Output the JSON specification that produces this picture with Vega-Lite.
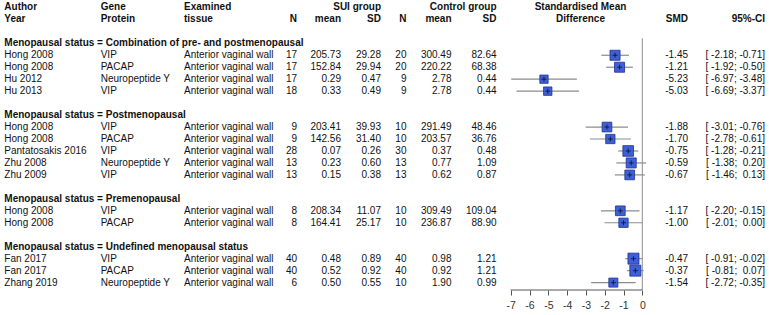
{
  "$schema": "https://vega.github.io/schema/vega-lite/v6.json",
  "width": 769,
  "height": 290,
  "autosize": {"type": "none"},
  "padding": {"left": 0, "top": 0, "right": 0, "bottom": 25},
  "background": "white",
  "config": {
    "view": {"stroke": null},
    "locale": {"number": {"decimal": ".", "thousands": ",", "grouping": [3], "currency": ["$", ""], "minus": "-"}},
    "text": {"font": "Liberation Sans", "fontSize": 10, "color": "#111111", "baseline": "middle"}
  },
  "datasets": {
    "studies": [
      {"id": "r1", "author": "Hong 2008", "gene": "VIP", "tissue": "Anterior vaginal wall", "n1": 17, "m1": 205.73, "sd1": 29.28, "n2": 20, "m2": 300.49, "sd2": 82.64, "smd": -1.45, "lo": -2.18, "hi": -0.71, "ci": "[ -2.18; -0.71]", "weight": 6.3},
      {"id": "r2", "author": "Hong 2008", "gene": "PACAP", "tissue": "Anterior vaginal wall", "n1": 17, "m1": 152.84, "sd1": 29.94, "n2": 20, "m2": 220.22, "sd2": 68.38, "smd": -1.21, "lo": -1.92, "hi": -0.50, "ci": "[ -1.92; -0.50]", "weight": 6.3},
      {"id": "r3", "author": "Hu 2012", "gene": "Neuropeptide Y", "tissue": "Anterior vaginal wall", "n1": 17, "m1": 0.29, "sd1": 0.47, "n2": 9, "m2": 2.78, "sd2": 0.44, "smd": -5.23, "lo": -6.97, "hi": -3.48, "ci": "[ -6.97; -3.48]", "weight": 4.3},
      {"id": "r4", "author": "Hu 2013", "gene": "VIP", "tissue": "Anterior vaginal wall", "n1": 18, "m1": 0.33, "sd1": 0.49, "n2": 9, "m2": 2.78, "sd2": 0.44, "smd": -5.03, "lo": -6.69, "hi": -3.37, "ci": "[ -6.69; -3.37]", "weight": 4.4},
      {"id": "r5", "author": "Hong 2008", "gene": "VIP", "tissue": "Anterior vaginal wall", "n1": 9, "m1": 203.41, "sd1": 39.93, "n2": 10, "m2": 291.49, "sd2": 48.46, "smd": -1.88, "lo": -3.01, "hi": -0.76, "ci": "[ -3.01; -0.76]", "weight": 5.9},
      {"id": "r6", "author": "Hong 2008", "gene": "PACAP", "tissue": "Anterior vaginal wall", "n1": 9, "m1": 142.56, "sd1": 31.40, "n2": 10, "m2": 203.57, "sd2": 36.76, "smd": -1.70, "lo": -2.78, "hi": -0.61, "ci": "[ -2.78; -0.61]", "weight": 5.4},
      {"id": "r7", "author": "Pantatosakis 2016", "gene": "VIP", "tissue": "Anterior vaginal wall", "n1": 28, "m1": 0.07, "sd1": 0.26, "n2": 30, "m2": 0.37, "sd2": 0.48, "smd": -0.75, "lo": -1.28, "hi": -0.21, "ci": "[ -1.28; -0.21]", "weight": 7.1},
      {"id": "r8", "author": "Zhu 2008", "gene": "Neuropeptide Y", "tissue": "Anterior vaginal wall", "n1": 13, "m1": 0.23, "sd1": 0.60, "n2": 13, "m2": 0.77, "sd2": 1.09, "smd": -0.59, "lo": -1.38, "hi": 0.20, "ci": "[ -1.38; \u00a00.20]", "weight": 6.3},
      {"id": "r9", "author": "Zhu 2009", "gene": "VIP", "tissue": "Anterior vaginal wall", "n1": 13, "m1": 0.15, "sd1": 0.38, "n2": 13, "m2": 0.62, "sd2": 0.87, "smd": -0.67, "lo": -1.46, "hi": 0.13, "ci": "[ -1.46; \u00a00.13]", "weight": 5.9},
      {"id": "r10", "author": "Hong 2008", "gene": "VIP", "tissue": "Anterior vaginal wall", "n1": 8, "m1": 208.34, "sd1": 11.07, "n2": 10, "m2": 309.49, "sd2": 109.04, "smd": -1.17, "lo": -2.20, "hi": -0.15, "ci": "[ -2.20; -0.15]", "weight": 5.9},
      {"id": "r11", "author": "Hong 2008", "gene": "PACAP", "tissue": "Anterior vaginal wall", "n1": 8, "m1": 164.41, "sd1": 25.17, "n2": 10, "m2": 236.87, "sd2": 88.90, "smd": -1.00, "lo": -2.01, "hi": 0.00, "ci": "[ -2.01; \u00a00.00]", "weight": 5.4},
      {"id": "r12", "author": "Fan 2017", "gene": "VIP", "tissue": "Anterior vaginal wall", "n1": 40, "m1": 0.48, "sd1": 0.89, "n2": 40, "m2": 0.98, "sd2": 1.21, "smd": -0.47, "lo": -0.91, "hi": -0.02, "ci": "[ -0.91; -0.02]", "weight": 7.6},
      {"id": "r13", "author": "Fan 2017", "gene": "PACAP", "tissue": "Anterior vaginal wall", "n1": 40, "m1": 0.52, "sd1": 0.92, "n2": 40, "m2": 0.92, "sd2": 1.21, "smd": -0.37, "lo": -0.81, "hi": 0.07, "ci": "[ -0.81; \u00a00.07]", "weight": 7.6},
      {"id": "r14", "author": "Zhang 2019", "gene": "Neuropeptide Y", "tissue": "Anterior vaginal wall", "n1": 6, "m1": 0.50, "sd1": 0.55, "n2": 10, "m2": 1.90, "sd2": 0.99, "smd": -1.54, "lo": -2.72, "hi": -0.35, "ci": "[ -2.72; -0.35]", "weight": 5.1}
    ],
    "headers": [
      {"id": "hdr1", "author": "Author", "gene": "Gene", "tissue": "Examined", "n1": "", "m1": "", "sd1": "SUI group", "n2": "", "m2": "", "sd2": "Control group", "mid": "Standardised Mean", "smd": "", "ci": ""},
      {"id": "hdr2", "author": "Year", "gene": "Protein", "tissue": "tissue", "n1": "N", "m1": "mean", "sd1": "SD", "n2": "N", "m2": "mean", "sd2": "SD", "mid": "Difference", "smd": "SMD", "ci": "95%-CI"}
    ],
    "groups": [
      {"id": "g1", "label": "Menopausal status = Combination of pre- and postmenopausal"},
      {"id": "g2", "label": "Menopausal status = Postmenopausal"},
      {"id": "g3", "label": "Menopausal status = Premenopausal"},
      {"id": "g4", "label": "Menopausal status = Undefined menopausal status"}
    ]
  },
  "layer": [
    {
      "data": {"name": "studies"},
      "mark": {"type": "rule", "color": "#8c8c8c", "strokeWidth": 1.2},
      "encoding": {
        "x": {
          "field": "lo", "type": "quantitative",
          "scale": {"domain": [-34.165, 6.739], "nice": false, "zero": false},
          "axis": {"values": [-7, -6, -5, -4, -3, -2, -1, 0], "format": "d", "domain": false, "grid": false, "tickSize": 5, "tickColor": "#555555", "labelColor": "#333333", "labelFont": "Liberation Sans", "labelFontSize": 10.5, "labelPadding": 5, "title": null}
        },
        "x2": {"field": "hi"},
        "y": {
          "field": "id", "type": "nominal",
          "scale": {"type": "point", "domain": ["hdr1", "hdr2", "sp0", "g1", "r1", "r2", "r3", "r4", "sp1", "g2", "r5", "r6", "r7", "r8", "r9", "sp2", "g3", "r10", "r11", "sp3", "g4", "r12", "r13", "r14"], "padding": 0.619},
          "axis": null
        }
      }
    },
    {
      "data": {"values": [{}]},
      "mark": {"type": "rule", "color": "#8c8c8c", "strokeWidth": 1, "yOffset": -5},
      "encoding": {"x": {"datum": 0}, "y": {"datum": "g1"}, "y2": {"value": "height"}}
    },
    {
      "data": {"values": [{}]},
      "mark": {"type": "rule", "color": "#555555", "strokeWidth": 1},
      "encoding": {"x": {"datum": -7}, "x2": {"datum": 0}, "y": {"value": "height"}}
    },
    {
      "data": {"name": "studies"},
      "mark": {"type": "point", "shape": "square", "filled": true, "fill": "#3d5fd9", "stroke": "#1f318f", "strokeWidth": 0.8, "opacity": 1},
      "encoding": {
        "x": {"field": "smd", "type": "quantitative"},
        "y": {"field": "id", "type": "nominal"},
        "size": {"field": "weight", "type": "quantitative", "scale": {"domain": [0, 8], "range": [0, 128]}, "legend": null}
      }
    },
    {
      "data": {"name": "studies"},
      "mark": {"type": "point", "shape": "M-1,0L1,0M0,-1L0,1", "filled": false, "stroke": "#111111", "strokeWidth": 0.8, "size": 25, "opacity": 1},
      "encoding": {
        "x": {"field": "smd", "type": "quantitative"},
        "y": {"field": "id", "type": "nominal"}
      }
    },
    {
      "data": {"name": "groups"},
      "mark": {"type": "text", "align": "left", "fontWeight": "bold"},
      "encoding": {"x": {"datum": -33.936}, "y": {"field": "id", "type": "nominal"}, "text": {"field": "label"}}
    },
    {
      "data": {"name": "headers"},
      "mark": {"type": "text", "align": "left", "fontWeight": "bold"},
      "encoding": {"x": {"datum": -33.936}, "y": {"field": "id", "type": "nominal"}, "text": {"field": "author"}}
    },
    {
      "data": {"name": "headers"},
      "mark": {"type": "text", "align": "left", "fontWeight": "bold"},
      "encoding": {"x": {"datum": -28.809}, "y": {"field": "id", "type": "nominal"}, "text": {"field": "gene"}}
    },
    {
      "data": {"name": "headers"},
      "mark": {"type": "text", "align": "left", "fontWeight": "bold"},
      "encoding": {"x": {"datum": -24.378}, "y": {"field": "id", "type": "nominal"}, "text": {"field": "tissue"}}
    },
    {
      "data": {"name": "headers"},
      "mark": {"type": "text", "align": "right", "fontWeight": "bold"},
      "encoding": {"x": {"datum": -18.367}, "y": {"field": "id", "type": "nominal"}, "text": {"field": "n1"}}
    },
    {
      "data": {"name": "headers"},
      "mark": {"type": "text", "align": "right", "fontWeight": "bold"},
      "encoding": {"x": {"datum": -16.027}, "y": {"field": "id", "type": "nominal"}, "text": {"field": "m1"}}
    },
    {
      "data": {"name": "headers"},
      "mark": {"type": "text", "align": "right", "fontWeight": "bold"},
      "encoding": {"x": {"datum": -13.899}, "y": {"field": "id", "type": "nominal"}, "text": {"field": "sd1"}}
    },
    {
      "data": {"name": "headers"},
      "mark": {"type": "text", "align": "right", "fontWeight": "bold"},
      "encoding": {"x": {"datum": -12.543}, "y": {"field": "id", "type": "nominal"}, "text": {"field": "n2"}}
    },
    {
      "data": {"name": "headers"},
      "mark": {"type": "text", "align": "right", "fontWeight": "bold"},
      "encoding": {"x": {"datum": -10.149}, "y": {"field": "id", "type": "nominal"}, "text": {"field": "m2"}}
    },
    {
      "data": {"name": "headers"},
      "mark": {"type": "text", "align": "right", "fontWeight": "bold"},
      "encoding": {"x": {"datum": -7.755}, "y": {"field": "id", "type": "nominal"}, "text": {"field": "sd2"}}
    },
    {
      "data": {"name": "headers"},
      "mark": {"type": "text", "align": "center", "fontWeight": "bold"},
      "encoding": {"x": {"datum": -3.287}, "y": {"field": "id", "type": "nominal"}, "text": {"field": "mid"}}
    },
    {
      "data": {"name": "headers"},
      "mark": {"type": "text", "align": "right", "fontWeight": "bold"},
      "encoding": {"x": {"datum": 2.431}, "y": {"field": "id", "type": "nominal"}, "text": {"field": "smd"}}
    },
    {
      "data": {"name": "headers"},
      "mark": {"type": "text", "align": "right", "fontWeight": "bold"},
      "encoding": {"x": {"datum": 6.527}, "y": {"field": "id", "type": "nominal"}, "text": {"field": "ci"}}
    },
    {
      "data": {"name": "studies"},
      "mark": {"type": "text", "align": "left"},
      "encoding": {"x": {"datum": -33.936}, "y": {"field": "id", "type": "nominal"}, "text": {"field": "author"}}
    },
    {
      "data": {"name": "studies"},
      "mark": {"type": "text", "align": "left"},
      "encoding": {"x": {"datum": -28.809}, "y": {"field": "id", "type": "nominal"}, "text": {"field": "gene"}}
    },
    {
      "data": {"name": "studies"},
      "mark": {"type": "text", "align": "left"},
      "encoding": {"x": {"datum": -24.378}, "y": {"field": "id", "type": "nominal"}, "text": {"field": "tissue"}}
    },
    {
      "data": {"name": "studies"},
      "mark": {"type": "text", "align": "right"},
      "encoding": {"x": {"datum": -18.367}, "y": {"field": "id", "type": "nominal"}, "text": {"field": "n1", "type": "quantitative", "format": "d"}}
    },
    {
      "data": {"name": "studies"},
      "mark": {"type": "text", "align": "right"},
      "encoding": {"x": {"datum": -16.027}, "y": {"field": "id", "type": "nominal"}, "text": {"field": "m1", "type": "quantitative", "format": ".2f"}}
    },
    {
      "data": {"name": "studies"},
      "mark": {"type": "text", "align": "right"},
      "encoding": {"x": {"datum": -13.899}, "y": {"field": "id", "type": "nominal"}, "text": {"field": "sd1", "type": "quantitative", "format": ".2f"}}
    },
    {
      "data": {"name": "studies"},
      "mark": {"type": "text", "align": "right"},
      "encoding": {"x": {"datum": -12.543}, "y": {"field": "id", "type": "nominal"}, "text": {"field": "n2", "type": "quantitative", "format": "d"}}
    },
    {
      "data": {"name": "studies"},
      "mark": {"type": "text", "align": "right"},
      "encoding": {"x": {"datum": -10.149}, "y": {"field": "id", "type": "nominal"}, "text": {"field": "m2", "type": "quantitative", "format": ".2f"}}
    },
    {
      "data": {"name": "studies"},
      "mark": {"type": "text", "align": "right"},
      "encoding": {"x": {"datum": -7.755}, "y": {"field": "id", "type": "nominal"}, "text": {"field": "sd2", "type": "quantitative", "format": ".2f"}}
    },
    {
      "data": {"name": "studies"},
      "mark": {"type": "text", "align": "right"},
      "encoding": {"x": {"datum": 2.431}, "y": {"field": "id", "type": "nominal"}, "text": {"field": "smd", "type": "quantitative", "format": ".2f"}}
    },
    {
      "data": {"name": "studies"},
      "mark": {"type": "text", "align": "right"},
      "encoding": {"x": {"datum": 6.527}, "y": {"field": "id", "type": "nominal"}, "text": {"field": "ci"}}
    }
  ]
}
